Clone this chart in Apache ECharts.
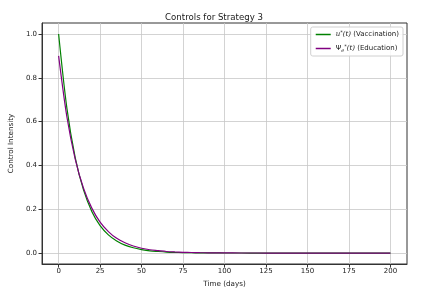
<!DOCTYPE html>
<html><head><meta charset="utf-8">
<script src="https://cdn.jsdelivr.net/npm/echarts@6/dist/echarts.min.js"></script>
<style>html,body{margin:0;padding:0;background:#fff}#c{width:428px;height:293px}</style>
</head><body><div id="c"></div>
<script>
const days = [0,5,10,15,20,25,30,35,40,45,50,55,60,65,70,75,80,85,90,95,100,110,120,130,140,150,160,170,180,190,200];
const vaccination = [1.0,0.660,0.436,0.288,0.190,0.125,0.083,0.055,0.036,0.024,0.016,0.010,0.007,0.0045,0.003,0.002,0.0013,0.0009,0.0006,0.0004,0.0003,0.0001,0,0,0,0,0,0,0,0,0];
const education = [0.9,0.621,0.429,0.296,0.205,0.141,0.098,0.067,0.047,0.032,0.022,0.015,0.011,0.007,0.005,0.0035,0.0024,0.0017,0.0012,0.0008,0.0005,0.0002,0.0001,0,0,0,0,0,0,0,0];
const xTicks = [0,25,50,75,100,125,150,175,200];
const yTicks = [0,0.2,0.4,0.6,0.8,1.0];

const chart = echarts.init(document.getElementById('c'));
const font = 'DejaVu Sans';
chart.setOption({
  animation:false,
  title:{text:'Controls for Strategy 3',left:'center',top:8,textStyle:{fontFamily:font,fontSize:8.6,fontWeight:'normal',color:'#1a1a1a'}},
  grid:{left:42,right:21,top:23,bottom:28,show:true,borderColor:'#333',borderWidth:1,containLabel:false},
  legend:{
    right:25,top:27,orient:'vertical',
    backgroundColor:'rgba(255,255,255,0.85)',borderColor:'#d0d0d0',borderWidth:1,borderRadius:2,
    padding:[3,4,3,5],itemGap:6,itemWidth:15,itemHeight:1.5,icon:'rect',
    textStyle:{fontFamily:font,fontSize:7,color:'#1a1a1a',
      rich:{i:{fontFamily:'DejaVu Serif',fontStyle:'italic',fontSize:7,color:'#1a1a1a'},
            s:{fontSize:5,verticalAlign:'top',padding:[0,0,4,0],color:'#1a1a1a'},
            b:{fontFamily:'DejaVu Serif',fontStyle:'italic',fontSize:5,verticalAlign:'bottom',padding:[4,0,0,0],color:'#1a1a1a'},
            n:{fontFamily:font,fontSize:7,color:'#1a1a1a'}}},
    formatter:function(n){
      if(n==='vac') return '{i|u}{s|*}{i|(t)} {n|(Vaccination)}';
      return '{n|Ψ}{b|e}{s|*}{i|(t)} {n|(Education)}';
    },
    data:['vac','edu']
  },
  xAxis:{type:'value',min:-10,max:210,
    name:'Time (days)',nameLocation:'middle',nameGap:17,nameTextStyle:{fontFamily:font,fontSize:7.2,color:'#1a1a1a'},
    axisLine:{show:true,onZero:false,lineStyle:{color:'#333'}},
    axisTick:{show:true,length:3.5,lineStyle:{color:'#333'},customValues:xTicks},
    axisLabel:{fontFamily:font,fontSize:7,color:'#1a1a1a',margin:4,customValues:xTicks},
    splitLine:{show:true,lineStyle:{color:'#c8c8c8',width:0.8}}},
  yAxis:{type:'value',min:-0.05,max:1.05,
    name:'Control Intensity',nameLocation:'middle',nameGap:23,nameRotate:90,nameTextStyle:{fontFamily:font,fontSize:7.2,color:'#1a1a1a'},
    axisLine:{show:true,onZero:false,lineStyle:{color:'#333'}},
    axisTick:{show:true,length:3.5,lineStyle:{color:'#333'},customValues:yTicks},
    axisLabel:{fontFamily:font,fontSize:7,color:'#1a1a1a',margin:5,customValues:yTicks,formatter:v=>v.toFixed(1)},
    splitLine:{show:true,lineStyle:{color:'#c8c8c8',width:0.8}}},
  series:[
    {name:'vac',type:'line',smooth:0.3,showSymbol:false,symbol:'none',color:'#008000',lineStyle:{width:1.2,color:'#008000'},
      data:days.map((d,i)=>[d,vaccination[i]])},
    {name:'edu',type:'line',smooth:0.3,showSymbol:false,symbol:'none',color:'#800080',lineStyle:{width:1.2,color:'#800080'},
      data:days.map((d,i)=>[d,education[i]])}
  ]
});
</script></body></html>
